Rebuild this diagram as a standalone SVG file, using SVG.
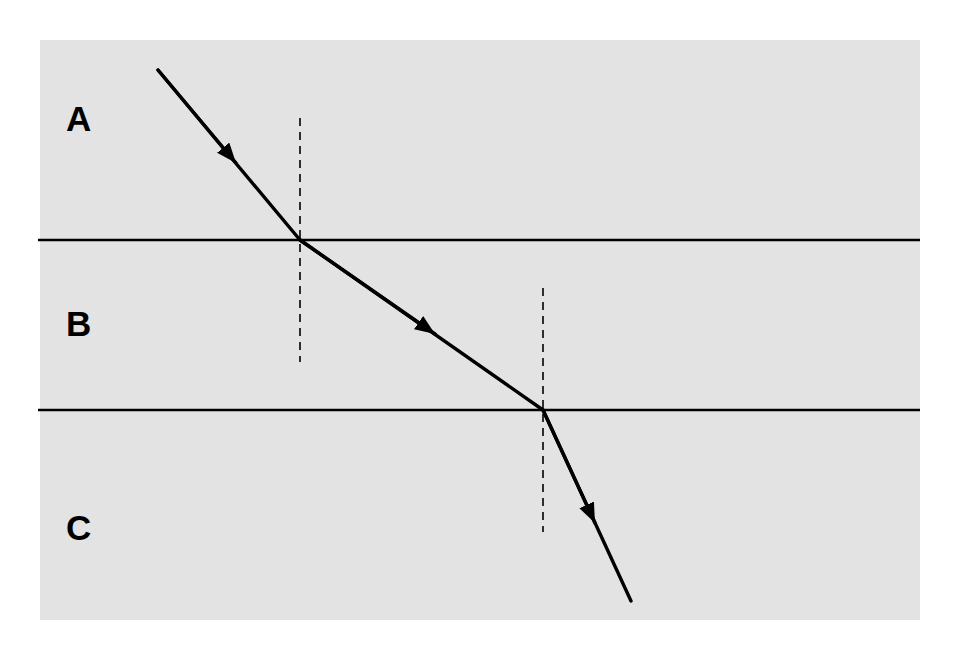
<svg xmlns="http://www.w3.org/2000/svg" width="960" height="660" viewBox="0 0 960 660">
<style>
.lbl{font-family:"Liberation Sans",Arial,sans-serif;font-weight:bold;font-size:35px;fill:#000}
.bd{stroke:#000;stroke-width:2.5;fill:none}
.nm{stroke:#000;stroke-width:1.6;stroke-dasharray:8,6;fill:none}
.ray{stroke:#000;stroke-width:3.4;fill:none;stroke-linejoin:round;stroke-linecap:round}
</style>
<defs>
<marker id="ah" markerUnits="userSpaceOnUse" markerWidth="22" markerHeight="18" refX="20" refY="8" orient="auto">
<path d="M0,0 L20,8 L0,16 Z" fill="#000"/>
</marker>
</defs>
<rect x="0" y="0" width="960" height="660" fill="#fff"/>
<rect x="40" y="40" width="880" height="580" fill="#e3e3e3"/>
<g id="boundaries">
<line class="bd" x1="38" y1="240" x2="920" y2="240"/>
<line class="bd" x1="38" y1="410" x2="920" y2="410"/>
</g>
<g id="normals">
<line class="nm" x1="300" y1="118" x2="300" y2="362"/>
<line class="nm" x1="543" y1="288" x2="543" y2="532"/>
</g>
<g id="connectors">
<polyline class="ray" points="158,70 300,240 543,410 631,601"/>
<line class="ray" x1="158" y1="70" x2="236" y2="163" marker-end="url(#ah)"/>
<line class="ray" x1="300" y1="240" x2="435" y2="334" marker-end="url(#ah)"/>
<line class="ray" x1="543" y1="410" x2="595" y2="523" marker-end="url(#ah)"/>
</g>
<g id="labelA"><text class="lbl" x="66" y="131">A</text></g>
<g id="labelB"><text class="lbl" x="66" y="336">B</text></g>
<g id="labelC"><text class="lbl" x="66" y="540">C</text></g>
</svg>
